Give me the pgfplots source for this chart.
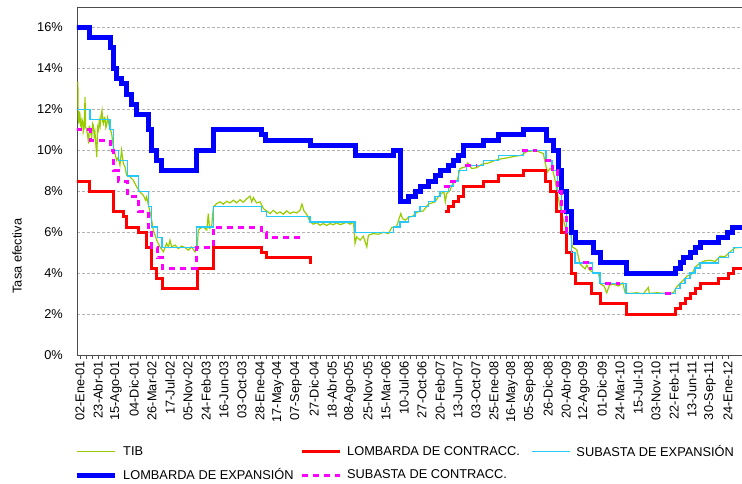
\documentclass[border=0pt]{standalone}
\usepackage{fontspec}
\setmainfont{Liberation Sans}
\usepackage{pgfplots}
\pgfplotsset{compat=1.18}
\definecolor{tibgreen}{RGB}{153,204,0}
\definecolor{subexp}{RGB}{40,200,250}
\definecolor{lexp}{RGB}{0,0,255}
\definecolor{lcon}{RGB}{255,0,0}
\definecolor{scon}{RGB}{255,0,255}
\begin{document}
\begin{tikzpicture}[font=\fontsize{12.8}{15}\selectfont]
\begin{axis}[
  name=ax,
  scale only axis,
  width=668pt, height=348pt,
  xmin=-0.167, xmax=36.94,
  ymin=0, ymax=17,
  xtick={0,...,36},
  xticklabels={02-Ene-01,23-Abr-01,15-Ago-01,04-Dic-01,26-Mar-02,17-Jul-02,05-Nov-02,24-Feb-03,16-Jun-03,03-Oct-03,28-Ene-04,17-May-04,07-Sep-04,27-Dic-04,18-Abr-05,08-Ago-05,25-Nov-05,15-Mar-06,10-Jul-06,27-Oct-06,20-Feb-07,13-Jun-07,03-Oct-07,25-Ene-08,16-May-08,05-Sep-08,26-Dic-08,20-Abr-09,12-Ago-09,01-Dic-09,24-Mar-10,15-Jul-10,03-Nov-10,22-Feb-11,13-Jun-11,30-Sep-11,24-Ene-12},
  minor x tick num=2,
  xticklabel style={rotate=90, anchor=east, inner sep=2pt},
  ytick={0,2,...,16},
  yticklabels={0\%,2\%,4\%,6\%,8\%,10\%,12\%,14\%,16\%},
  yticklabel style={inner sep=2pt, xshift=-8pt},
  ytick style={draw=none},
  xtick style={black!70, line width=0.6pt},
  tick align=outside,
  tick pos=left,
  major tick length=4pt, minor tick length=4pt,
  ymajorgrids,
  grid style={black!30, line width=0.5pt, dash pattern=on 3pt off 2pt},
  axis line style={black!70, line width=0.8pt},
  ylabel={Tasa efectiva},
  ylabel style={at={(axis description cs:-0.0898,0.284)}, anchor=center},
  legend columns=3,
  legend cell align=left,
  legend image code/.code={\draw[#1] (0pt,0pt) -- (38pt,0pt);},
  legend style={at={(axis description cs:0,-0.253)}, anchor=north west,
    xshift=-6pt,
    draw=none, fill=none,
    nodes={inner sep=0pt, anchor=west},
    row sep=11pt,
    /tikz/every odd column/.append style={column sep=6pt}},
  unbounded coords=jump,
]
% TIB
\addplot[tibgreen, line width=1.2pt] coordinates {
(-0.12,13.33) (-0.10,11.63) (-0.07,11.30) (-0.03,11.9) (0.0,11.71) (0.03,11.2) (0.07,11.14) (0.11,11.5) (0.15,11.38) (0.18,10.9) (0.22,11.06) (0.28,12.60) (0.31,11.14) (0.36,11.0) (0.41,10.81) (0.48,10.33) (0.52,11.2) (0.56,10.98) (0.65,10.65) (0.70,11.3) (0.74,11.22) (0.79,10.7) (0.83,10.89) (0.93,9.67) (0.98,11.14) (1.03,11.0) (1.07,11.46) (1.12,11.2) (1.17,11.71) (1.22,11.95) (1.26,11.4) (1.30,11.30) (1.35,11.6) (1.39,11.54) (1.44,11.1) (1.48,11.22) (1.53,11.6) (1.57,11.46) (1.62,11.2) (1.67,11.06) (1.76,10.81) (1.85,10.16) (1.94,9.84) (2.04,9.51) (2.13,9.67) (2.22,9.27) (2.31,10.0) (2.41,9.35) (2.50,9.19) (2.59,8.78) (2.78,8.70) (2.96,8.54) (3.15,8.21) (3.33,7.97) (3.52,7.80) (3.65,7.56) (3.70,7.72) (3.80,7.32) (3.89,6.99) (3.98,6.59) (4.07,6.10) (4.17,5.85) (4.26,5.61) (4.44,5.28) (4.63,5.04) (4.81,5.45) (4.91,5.28) (5.00,5.61) (5.09,5.28) (5.28,5.37) (5.46,5.20) (5.65,5.32) (5.83,5.25) (6.02,5.12) (6.20,5.28) (6.39,5.04) (6.52,5.37) (6.57,6.10) (6.67,6.18) (6.85,6.26) (7.04,6.10) (7.13,6.91) (7.19,6.18) (7.31,6.26) (7.41,7.24) (7.59,7.40) (7.78,7.48) (7.96,7.37) (8.15,7.51) (8.33,7.43) (8.52,7.56) (8.70,7.43) (8.89,7.59) (9.07,7.46) (9.26,7.63) (9.44,7.76) (9.54,7.48) (9.63,7.69) (9.81,7.43) (10.0,7.48) (10.19,7.15) (10.37,7.04) (10.56,6.91) (10.74,7.07) (10.93,6.91) (11.11,6.99) (11.30,6.88) (11.48,7.04) (11.67,6.91) (11.85,6.99) (12.04,6.94) (12.22,7.07) (12.33,7.37) (12.44,7.04) (12.59,6.88) (12.78,6.50) (12.96,6.39) (13.15,6.46) (13.33,6.34) (13.52,6.42) (13.70,6.33) (13.89,6.42) (14.07,6.36) (14.26,6.46) (14.44,6.37) (14.63,6.42) (14.81,6.49) (15.0,6.39) (15.19,6.50)
(15.28,5.45) (15.37,5.77) (15.56,5.61) (15.74,5.80) (15.93,5.28) (16.02,5.85) (16.29,5.93) (16.57,5.90) (16.85,6.0) (17.13,5.93) (17.32,6.23) (17.59,6.29) (17.82,6.91) (17.91,6.67) (18.06,6.59) (18.24,6.72) (18.48,6.78) (18.71,6.98) (19.07,7.04) (19.35,7.37) (19.72,7.48) (20.0,7.85) (20.22,7.97) (20.29,7.48) (20.37,7.89) (20.56,8.05) (20.74,8.46) (20.96,8.54) (21.11,9.11) (21.39,9.19) (21.54,9.38) (21.76,9.11) (22.04,9.15) (22.32,9.32) (22.68,9.38) (23.06,9.51) (23.43,9.59) (23.79,9.64) (24.17,9.71) (24.54,9.76) (24.82,9.95) (25.37,9.97) (25.74,9.84) (25.85,9.35) (25.96,8.94) (26.11,9.11) (26.26,9.02) (26.39,8.54) (26.52,7.89) (26.67,7.24) (26.85,6.59) (27.04,6.02) (27.26,5.93) (27.35,5.28) (27.59,5.15) (27.78,4.44) (27.93,4.31) (28.06,4.21) (28.15,4.39) (28.28,4.18) (28.43,4.07) (28.61,3.98) (28.79,4.02) (28.93,3.46) (29.11,3.37) (29.26,3.04) (29.41,3.41) (29.63,3.46) (29.91,3.37) (30.15,3.53) (30.28,3.04) (30.56,3.01) (30.93,3.04) (31.29,2.99) (31.57,3.30) (31.63,3.01) (32.04,3.04) (32.5,3.01) (32.96,3.04) (33.15,3.33) (33.33,3.50) (33.52,3.66) (33.71,3.85) (33.98,3.95) (34.17,4.28) (34.44,4.50) (34.72,4.60) (35.0,4.63) (35.28,4.57) (35.56,4.83) (35.83,4.80) (36.11,5.04) (36.39,5.24) (36.78,5.25)
};
\addlegendentry{\makebox[177pt][l]{TIB}}
% LOMBARDA DE CONTRACC.
\addplot[lcon, line width=3pt, const plot] coordinates {
(-0.2,8.5) (0.52,8) (1.85,7) (2.41,6.75) (2.59,6.25) (3.24,6) (3.71,5.25) (3.98,4.25) (4.26,3.75) (4.57,3.25) (6.52,4.25) (7.41,5.25) (10.09,5) (10.37,4.75) (12.78,4.5) (12.89,4.5)
(16,nan)
(20.28,7.0) (20.46,7.25) (20.74,7.5) (21.02,7.75) (21.30,8.25) (22.41,8.5) (23.24,8.75) (24.63,9) (25.83,8.5) (26.11,8) (26.48,7) (26.76,6) (27.04,5) (27.32,4) (27.5,3.5) (28.43,3) (28.89,2.5) (30.37,2) (33.06,2.25) (33.33,2.5) (33.61,2.75) (33.89,3) (34.17,3.25) (34.44,3.5) (35.46,3.75) (36.02,4) (36.29,4.25) (37,4.25)
};
\addlegendentry{\makebox[184pt][l]{LOMBARDA DE CONTRACC.}}
% SUBASTA DE EXPANSION
\addplot[subexp, line width=1.3pt, const plot] coordinates {
(-0.2,12) (0.56,11.5) (1.67,11) (1.85,10) (2.13,9.5) (2.63,8.75) (3.24,8) (3.79,7.25) (3.98,6.25) (4.31,5.75) (4.56,5.25) (6.48,6.25) (7.41,7.25) (10.09,7) (10.37,6.75) (12.78,6.5) (15.28,6) (17.41,6.25) (17.78,6.5) (18.24,6.75) (18.61,7) (18.89,7.25) (19.35,7.5) (19.72,7.75) (20.0,8) (20.46,8.25) (20.74,8.5) (21.02,9.0) (21.48,9.25) (22.41,9.5) (23.24,9.75) (24.63,10) (25.89,9.5) (26.22,9) (26.53,8) (26.76,7) (27.04,6) (27.32,5) (27.5,4.5) (28.47,4) (28.89,3.5) (30.33,3) (33.06,3.25) (33.33,3.5) (33.61,3.75) (33.89,4) (34.17,4.25) (34.44,4.5) (35.46,4.75) (36.02,5) (36.29,5.25) (37,5.25)
};
\addlegendentry{SUBASTA DE EXPANSIÓN}
% LOMBARDA DE EXPANSION
\addplot[lexp, line width=5pt, const plot] coordinates {
(-0.2,16) (0.52,15.5) (1.68,15) (1.85,14) (2.04,13.5) (2.32,13.25) (2.59,12.75) (2.87,12.25) (3.15,11.75) (3.79,11) (3.98,10) (4.26,9.5) (4.54,9) (6.48,10) (7.41,11) (10.09,10.75) (10.33,10.5) (12.78,10.25) (15.28,9.75) (17.41,10) (17.78,7.5) (18.24,7.75) (18.61,8) (18.89,8.25) (19.35,8.5) (19.72,8.75) (20.0,9) (20.46,9.25) (20.74,9.5) (21.02,9.75) (21.30,10.25) (22.41,10.5) (23.24,10.75) (24.63,11) (25.93,10.5) (26.30,10) (26.57,9) (26.76,8) (27.04,7) (27.32,6) (27.5,5.5) (28.52,5) (28.89,4.5) (30.37,4) (33.06,4.25) (33.33,4.5) (33.5,4.75) (33.89,5) (34.17,5.25) (34.44,5.5) (35.44,5.75) (35.94,6) (36.22,6.25) (37,6.25)
};
\addlegendentry{\makebox[177pt][l]{LOMBARDA DE EXPANSIÓN}}
% SUBASTA DE CONTRACC.
\addplot[scon, line width=3pt, const plot, dash pattern=on 6pt off 5pt] coordinates {
(-0.2,11) (0.56,10.5) (1.67,10) (1.85,9) (2.13,8.5) (2.63,7.75) (3.24,7) (3.79,6.25) (3.98,5.25) (4.31,4.75) (4.56,4.25) (6.48,5.25) (7.41,6.25) (10.09,6) (10.37,5.75) (12.33,5.75)
(16,nan)
(20.22,8.25) (20.65,8.5) (20.94,8.5)
(21.2,nan)
(21.39,9.25) (22.06,9.25)
(23,nan)
(24.54,10) (25.39,10)
(25.6,nan)
(25.83,9.5) (26.22,9) (26.5,8) (26.72,7) (27.0,6) (27.32,6)
(27.6,nan)
(27.94,4.5) (28.33,4.25) (28.44,4.25)
(28.8,nan)
(29.17,3.5) (30.0,3.5)
(31,nan)
(32.5,3.0) (33.06,3.0)
};
\addlegendentry{\makebox[184pt][l]{SUBASTA DE CONTRACC.}}
\end{axis}
\pgfresetboundingbox
\path[use as bounding box] ([xshift=-77pt,yshift=-128pt]ax.south west) rectangle ([xshift=665pt,yshift=7pt]ax.north west);
\end{tikzpicture}
\end{document}
